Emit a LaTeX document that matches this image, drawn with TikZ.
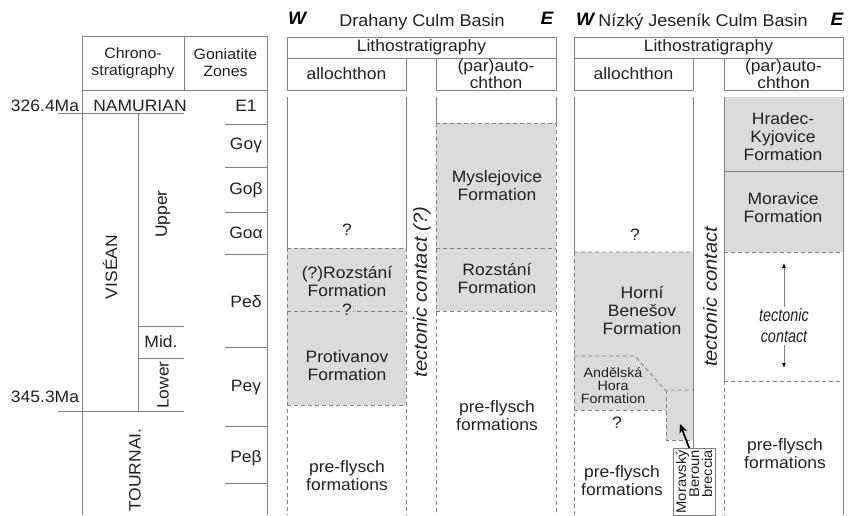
\documentclass[tikz,border=0pt]{standalone}
\usepackage{fontspec}
\setmainfont[FakeStretch=1.06]{Liberation Sans}
\newfontfamily\narrowsans[FakeStretch=0.8]{Liberation Sans}
\usetikzlibrary{arrows.meta}
\definecolor{rulegray}{gray}{0.5}
\definecolor{inkgray}{gray}{0.13}
\definecolor{fmgray}{gray}{0.86}
\tikzset{
  rule/.style={draw=rulegray, line width=0.9pt},
  cut/.style={draw=rulegray, line width=0.9pt, dash pattern=on 4pt off 3pt},
  txt/.style={text=inkgray, align=center, inner sep=0pt,
    font=\fontsize{16.5}{18}\selectfont},
  head/.style={txt, font=\fontsize{15}{17}\selectfont},
  box/.style={txt, rule, minimum height=21pt},
  tect/.style={txt, rotate=90, font=\fontsize{19}{21}\selectfont\itshape},
  side/.style={text=black, inner sep=0pt,
    font=\fontsize{18}{18}\selectfont\bfseries\itshape},
}

\begin{document}
\begin{tikzpicture}[x=1pt, y=-1pt]
  \useasboundingbox (0,0) rectangle (850,515);
  % formations
  \fill[fmgray] (287,248) rectangle (406,405);
  \fill[fmgray] (436,123) rectangle (556,311);
  \fill[fmgray] (574,252) -- (693,252) -- (693,440) -- (666,440)
    -- (666,410) -- (574,410) -- cycle;
  \fill[fmgray] (724,97) rectangle (843,252);

  % chronostratigraphy + goniatite zones
  \node[box, head, minimum width=102pt, minimum height=54pt] (chrono) at (133,63) {Chrono-\\stratigraphy};
  \node[box, head, minimum width=83pt, minimum height=54pt] (gonia) at (225.5,63) {Goniatite\\Zones};
  \draw[rule] (82,90) -- (82,515) (267,90) -- (267,515) (138,113) -- (138,411);
  \draw[rule] (58,113) -- (184,113) (58,411) -- (184,411);
  \draw[rule] (138,326) -- (184,326) (138,358) -- (184,358);
  \draw[rule] (225,124) -- (267,124) (225,167) -- (267,167) (225,212) -- (267,212)
    (225,254) -- (267,254) (225,347) -- (267,347) (225,426) -- (267,426)
    (225,483) -- (267,483);
  \node[txt] (age-top) at (45,106) {326.4Ma};
  \node[txt] (age-base) at (45,397) {345.3Ma};
  \node[txt] (namur) at (140,106) {NAMURIAN};
  \node[txt, rotate=90] (visean) at (110,267) {VISÉAN};
  \node[txt, rotate=90] (upper) at (163,214) {Upper};
  \node[txt] (mid) at (161,342) {Mid.};
  \node[txt, rotate=90] (lower) at (163,385) {Lower};
  \node[txt, rotate=90] (tournai) at (135,470) {TOURNAI.};
  \node[txt] (e1) at (246,106) {E1};
  \node[txt] (go-c) at (246,145) {Goγ};
  \node[txt] (go-b) at (246,190) {Goβ};
  \node[txt] (go-a) at (246,233) {Goα};
  \node[txt] (pe-d) at (246,302) {Peδ};
  \node[txt] (pe-c) at (246,388) {Peγ};
  \node[txt] (pe-b) at (246,458) {Peβ};

  % Drahany Culm Basin
  \node[side] (w-d) at (297,18) {W};
  \node[txt, font=\fontsize{17}{19}\selectfont] (title-d) at (422,22) {Drahany Culm Basin};
  \node[side] (e-d) at (547,18) {E};
  \node[box, minimum width=269pt] (litho-d) at (421.5,47.5) {Lithostratigraphy};
  \node[box, minimum width=119pt, minimum height=32pt] (alloch-d) at (346.5,74) {allochthon};
  \node[box, minimum width=120pt, minimum height=32pt, font=\fontsize{16.5}{13.5}\selectfont] (autoch-d) at (496,74) {(par)auto-\\chthon};
  \draw[rule] (287,97) -- (287,248) (406,97) -- (406,248) (436,97) -- (436,123) (556,97) -- (556,123);
  \draw[cut] (287,248) -- (287,515) (406,248) -- (406,515) (436,123) -- (436,515) (556,123) -- (556,515);
  \draw[cut] (287,248) -- (406,248) (287,311) -- (406,311) (287,405) -- (406,405);
  \draw[cut] (436,123) -- (556,123) (436,248) -- (556,248) (436,311) -- (556,311);
  \node[txt] (q1-d) at (347,230) {?};
  \node[txt] (rozst-a) at (347,281) {(?)Rozstání\\Formation};
  \node[txt, fill=fmgray, inner sep=1pt] (q2-d) at (347,310) {?};
  \node[txt] (protiv) at (347,366) {Protivanov\\Formation};
  \node[txt] (pre-d1) at (347,476) {pre-flysch\\formations};
  \node[txt] (myslej) at (497,186) {Myslejovice\\Formation};
  \node[txt] (rozst-b) at (497,278) {Rozstání\\Formation};
  \node[txt] (pre-d2) at (497,416) {pre-flysch\\formations};
  \node[tect] (tc-d) at (422,292) {tectonic contact (?)};

  % Nizky Jesenik Culm Basin
  \node[side] (w-n) at (585,19) {W};
  \node[txt, font=\fontsize{17}{19}\selectfont] (title-n) at (703,22) {Nízký Jeseník Culm Basin};
  \node[side] (e-n) at (837,19) {E};
  \node[box, minimum width=269pt] (litho-n) at (708.5,47.5) {Lithostratigraphy};
  \node[box, minimum width=119pt, minimum height=32pt] (alloch-n) at (633.5,74) {allochthon};
  \node[box, minimum width=119pt, minimum height=32pt, font=\fontsize{16.5}{13.5}\selectfont] (autoch-n) at (783.5,74) {(par)auto-\\chthon};
  \draw[rule] (574,97) -- (574,252) (693,97) -- (693,448) (724,97) -- (724,381) (843,97) -- (843,515);
  \draw[rule] (724,171) -- (843,171);
  \draw[cut] (574,252) -- (574,515) (724,381) -- (724,515);
  \draw[cut] (574,252) -- (693,252) (574,356) -- (635,356) -- (665,390) -- (693,390);
  \draw[cut] (574,410) -- (666,410) (666,390) -- (666,440) -- (693,440);
  \draw[cut] (724,252) -- (843,252) (724,381) -- (843,381);
  \node[txt] (q1-n) at (635,235) {?};
  \node[txt] (benesov) at (642,310) {Horní\\Benešov\\Formation};
  \node[txt, font=\fontsize{13.5}{13}\selectfont] (andel) at (613,386) {Andělská\\Hora\\Formation};
  \node[txt] (q2-n) at (617,423) {?};
  \node[txt] (pre-n1) at (622,481) {pre-flysch\\formations};
  \node[txt] (hradec) at (783,137) {Hradec-\\Kyjovice\\Formation};
  \node[txt] (moravice) at (783,208) {Moravice\\Formation};
  \node[txt, font=\fontsize{18}{21}\narrowsans\itshape, inner sep=2pt] (tc-note) at (784,326) {tectonic\\contact};
  \coordinate (tc-up) at (784,263);
  \coordinate (tc-down) at (784,368);
  \draw[rulegray, line width=0.8pt, -{Latex[length=5pt,width=4pt,color=black]}] (tc-note.north) -- (tc-up);
  \draw[rulegray, line width=0.8pt, -{Latex[length=5pt,width=4pt,color=black]}] (tc-note.south) -- (tc-down);
  \node[txt] (pre-n2) at (785,454) {pre-flysch\\formations};
  \node[tect] (tc-n) at (710,297) {tectonic contact};
  \node[txt, rule, fill=white, rotate=90, anchor=east, align=right, inner sep=1.5pt,
    minimum height=42pt, font=\fontsize{14}{13}\selectfont] (brec) at (694,448) {Moravský\\Beroun\\breccia};
  \coordinate (brec-tip) at (680,424);
  \draw[line width=1.7pt, -{Stealth[length=9pt,width=8pt]}] (brec.8) -- (brec-tip);
\end{tikzpicture}
\end{document}
